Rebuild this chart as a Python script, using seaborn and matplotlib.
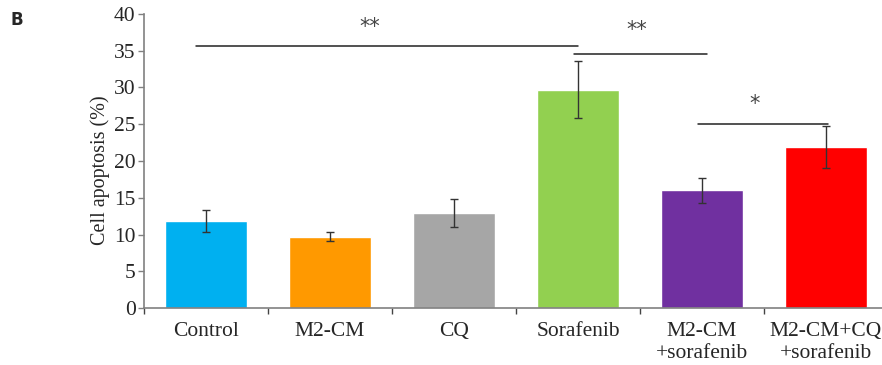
import matplotlib
matplotlib.use("Agg")
import matplotlib.pyplot as plt
import seaborn as sns
import pandas as pd
from matplotlib.ticker import FixedLocator

categories = ["Control", "M2-CM", "CQ", "Sorafenib", "M2-CM\n+sorafenib", "M2-CM+CQ\n+sorafenib"]
means = [11.8, 9.7, 12.9, 29.7, 16.0, 21.9]
errors = [1.5, 0.6, 1.9, 3.9, 1.7, 2.8]
colors = ["#00B0F0", "#FF9900", "#A6A6A6", "#92D050", "#7030A0", "#FF0000"]
yticks = [0, 5, 10, 15, 20, 25, 30, 35, 40]

# significance brackets
sig_x0 = [-0.08, 2.97, 3.97]
sig_x1 = [3.0, 4.04, 5.02]
sig_y = [35.6, 34.5, 25.1]
sig_labels = ["**", "**", "*"]
sig_label_x = [1.32, 3.47, 4.42]
sig_label_y = [38.2, 37.8, 27.8]

sns.set_theme(style="white")
plt.rcParams["font.family"] = ["Liberation Serif", "DejaVu Serif"]

df = pd.DataFrame({"group": categories, "value": means})

fig = plt.figure(figsize=(8.82, 3.65), dpi=100)
ax = fig.add_axes([144 / 882, 1 - 308 / 365, 738 / 882, 294 / 365])

sns.barplot(data=df, x="group", y="value", hue="group", palette=colors,
            width=0.66, ax=ax, legend=False, saturation=1, errorbar=None)
ax.errorbar(range(len(categories)), means, yerr=errors, fmt="none",
            ecolor="#333333", elinewidth=1.0, capsize=3, capthick=1.0)

for x0, x1, y in zip(sig_x0, sig_x1, sig_y):
    ax.plot([x0, x1], [y, y], color="#222222", lw=1.1, clip_on=False)
for lx, ly, lab in zip(sig_label_x, sig_label_y, sig_labels):
    ax.text(lx, ly, lab, ha="center", va="center",
            fontsize=15, color="#444444", family=["DejaVu Sans"])

ax.set_ylim(0, 40)
ax.set_xlim(-0.5, -0.5 + 738 / 124)
ax.set_yticks(yticks)
ax.set_yticklabels([str(t) for t in yticks], fontsize=15.5)
ax.set_xticks(range(len(categories)))
ax.set_xticklabels(categories, fontsize=15.5, linespacing=1.2)
ax.xaxis.set_minor_locator(FixedLocator([i - 0.5 for i in range(len(categories) + 1)]))
ax.tick_params(axis="x", which="major", length=0, pad=10)
ax.tick_params(axis="x", which="minor", length=4, width=1, color="#444444", direction="out", bottom=True)
ax.tick_params(axis="y", which="major", length=4, width=1, color="#808080", direction="out", left=True, pad=2)
ax.set_xlabel("")
ax.set_ylabel("Cell apoptosis (%)", fontsize=14.5)
ax.yaxis.set_label_coords(-0.046, 0.47)

for s in ["top", "right"]:
    ax.spines[s].set_visible(False)
for s in ["left", "bottom"]:
    ax.spines[s].set_color("#808080")
    ax.spines[s].set_linewidth(1.2)

fig.text(10 / 882, 1 - 20 / 365, "B", fontsize=12, fontweight="bold",
         family=["DejaVu Sans"], va="center", ha="left")

fig.savefig("out.png", dpi=100)
